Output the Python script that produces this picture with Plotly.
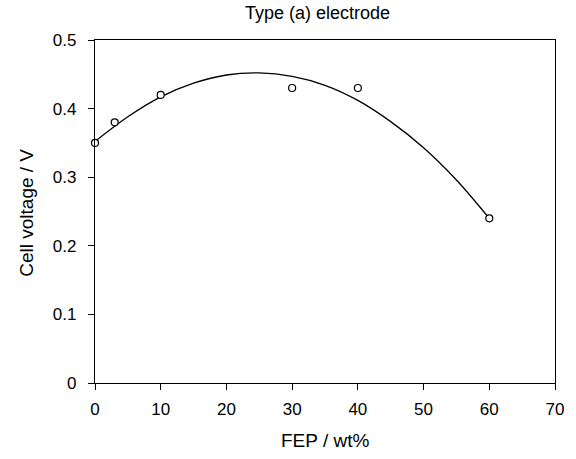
import plotly.graph_objects as go

# measured points
fep = [0, 3, 10, 30, 40, 60]
voltage = [0.35, 0.38, 0.42, 0.43, 0.43, 0.24]

# fitted curve
fit_x = [0, 5, 10, 15, 20, 25, 30, 35, 40, 45, 50, 55, 60]
fit_y = [0.352, 0.388, 0.417, 0.437, 0.449, 0.452, 0.447, 0.434, 0.412, 0.381, 0.343, 0.296, 0.240]

x_ticks = [0, 10, 20, 30, 40, 50, 60, 70]
y_ticks = [0, 0.1, 0.2, 0.3, 0.4, 0.5]
y_tick_text = ["0", "0.1", "0.2", "0.3", "0.4", "0.5"]

FONT = "Liberation Sans, Arial, sans-serif"

fig = go.Figure()
fig.add_trace(go.Scatter(x=fit_x, y=fit_y, mode="lines", line=dict(color="black", width=1.3, shape="spline"),
                         hoverinfo="skip", showlegend=False, cliponaxis=False))
fig.add_trace(go.Scatter(x=fep, y=voltage, mode="markers",
                         marker=dict(symbol="circle", size=7, color="white", line=dict(color="black", width=1.2)),
                         showlegend=False, cliponaxis=False))

L, R, T, B = 95, 16, 40, 76
W, H = 576, 459
pw, ph = W - L - R, H - T - B

fig.update_layout(
    width=W, height=H,
    margin=dict(l=L, r=R, t=T, b=B, pad=0),
    paper_bgcolor="white", plot_bgcolor="white",
    font=dict(family=FONT, size=17, color="black"),
    xaxis=dict(range=[0, 70], tickvals=x_ticks, ticks="outside", ticklen=6, tickwidth=1.2, tickcolor="black",
               showline=True, linecolor="black", linewidth=1.3, mirror=True, showgrid=False, zeroline=False,
               tickfont=dict(size=17), ticklabelstandoff=4),
    yaxis=dict(range=[0, 0.5], tickvals=y_ticks, ticktext=y_tick_text, ticks="outside", ticklen=6,
               tickwidth=1.2, tickcolor="black", showline=True, linecolor="black", linewidth=1.3, mirror=True,
               showgrid=False, zeroline=False, tickfont=dict(size=17), ticklabelstandoff=8),
    annotations=[
        dict(text="Type (a) electrode", xref="paper", yref="paper", x=(320 - L) / pw, y=1 + (T - 13) / ph,
             xanchor="center", yanchor="middle", showarrow=False, font=dict(size=18)),
        dict(text="FEP / wt%", xref="paper", yref="paper", x=(328 - L) / pw, y=-(440 - (T + ph)) / ph,
             xanchor="center", yanchor="middle", showarrow=False, font=dict(size=19)),
        dict(text="Cell voltage / V", xref="paper", yref="paper", x=(26 - L) / pw, y=(T + ph - 213) / ph,
             xanchor="center", yanchor="middle", textangle=-90, showarrow=False, font=dict(size=19)),
    ],
)

fig.write_html("out.html")
